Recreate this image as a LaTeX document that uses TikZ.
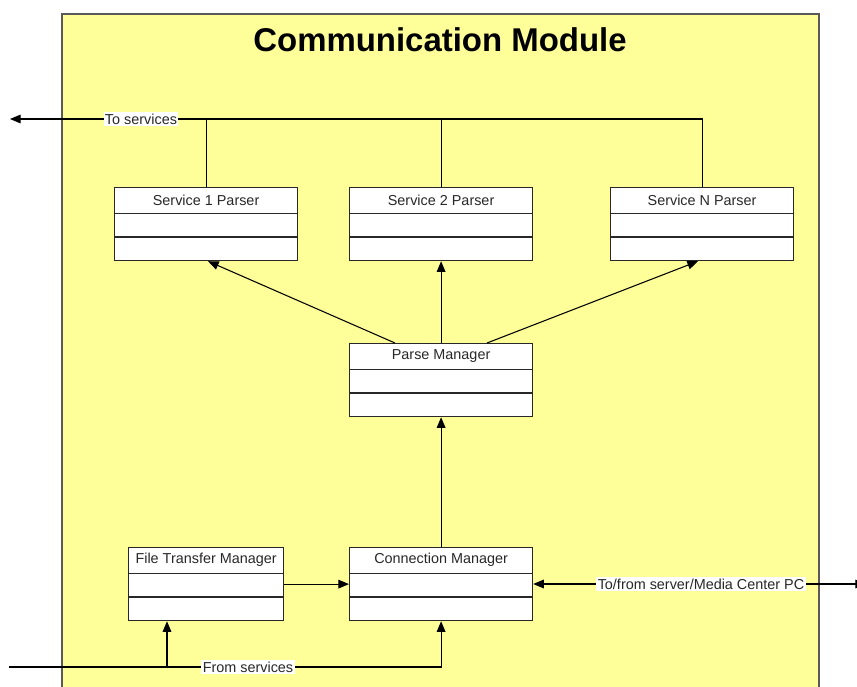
\documentclass[tikz,border=0pt]{standalone}
\usepackage{fontspec}
\setmainfont{Liberation Sans}
\usetikzlibrary{arrows.meta,calc}

\definecolor{modfill}{RGB}{255,255,153}
\definecolor{modedge}{RGB}{90,90,90}
\definecolor{ink}{RGB}{40,40,40}

\tikzset{
  boxframe/.style={draw=ink, fill=white, line width=0.9pt, rectangle,
    minimum height=54.75pt, inner sep=0pt, anchor=north west},
  boxtitle/.style={font=\fontsize{10.8}{12}\selectfont, text=ink, inner sep=0pt},
  conn/.style={draw=black, line width=0.8pt},
  arr/.style={conn, -{Triangle[length=8pt,width=6.5pt]}},
  wire/.style={fill=white, inner sep=1pt, font=\fontsize{10.8}{12}\selectfont, text=ink},
}

% class box: name, left x, top y, width (pt), title
\newcommand\classbox[5]{%
  \node[boxframe, minimum width=#4] (#1) at (#2,#3) {};
  \draw[draw=ink, line width=0.9pt] ($(#1.north west)+(0,26.5)$) -- ($(#1.north east)+(0,26.5)$);
  \draw[draw=ink, line width=0.9pt] ($(#1.north west)+(0,50)$) -- ($(#1.north east)+(0,50)$);
  \node[boxtitle] at ($(#1.north)+(0,13)$) {#5};
}

\begin{document}
\begin{tikzpicture}[x=0.75pt, y=-0.75pt]
  \useasboundingbox (0,0) rectangle (857,686);

  % module frame
  \fill[modfill] (62,14) rectangle (819,720);
  \draw[modedge, line width=1.1pt] (62,720) -- (62,14) -- (819,14) -- (819,720);
  \node[font=\bfseries\fontsize{24.7}{28}\selectfont] (title) at (440,40) {Communication Module};

  % classes
  \classbox{s1}{114}{187}{137.25pt}{Service 1 Parser}
  \classbox{s2}{349}{187}{137.25pt}{Service 2 Parser}
  \classbox{sN}{610}{187}{137.25pt}{Service N Parser}
  \classbox{pm}{349}{343}{137.25pt}{Parse Manager}
  \classbox{ftm}{128}{547}{116.25pt}{File Transfer Manager}
  \classbox{cm}{349}{547}{137.25pt}{Connection Manager}

  % output bus to services
  \coordinate (busL) at (10,119);
  \draw[conn] (sN.north) |- ($(busL)+(8,0)$);
  \draw[arr] (s1.north |- busL) -- (busL);
  \draw[conn] (s1.north) -- (s1.north |- busL);
  \draw[conn] (s2.north) -- (s2.north |- busL);
  \node[wire] (tosvc) at (141,119) {To services};

  % parse manager dispatches to parsers
  \draw[arr] ($(pm.north west)+(46,0)$) -- ($(s1.south west)+(94,0)$);
  \draw[arr] (pm.north) -- (s2.south);
  \draw[arr] ($(pm.north west)+(138,0)$) -- ($(sN.south west)+(88,0)$);

  % connection manager feeds parse manager
  \draw[arr] (cm.north) -- (pm.south);

  % file transfer manager to connection manager
  \draw[arr] (ftm.east) -- (cm.west);

  % external link
  \coordinate (ext) at (866,584);
  \draw[conn, {Triangle[length=8pt,width=6.5pt]}-{Triangle[length=8pt,width=6.5pt]}] (cm.east |- ext) -- (ext);
  \node[wire] (extlbl) at (701,584) {To/from server/Media Center PC};

  % input from services
  \coordinate (inL) at (9,667);
  \coordinate (br) at (167,667);
  \draw[arr] (inL) -| (cm.south);
  \draw[arr] (br) -- (br |- ftm.south);
  \node[wire] (fromsvc) at (248,667) {From services};
\end{tikzpicture}
\end{document}
